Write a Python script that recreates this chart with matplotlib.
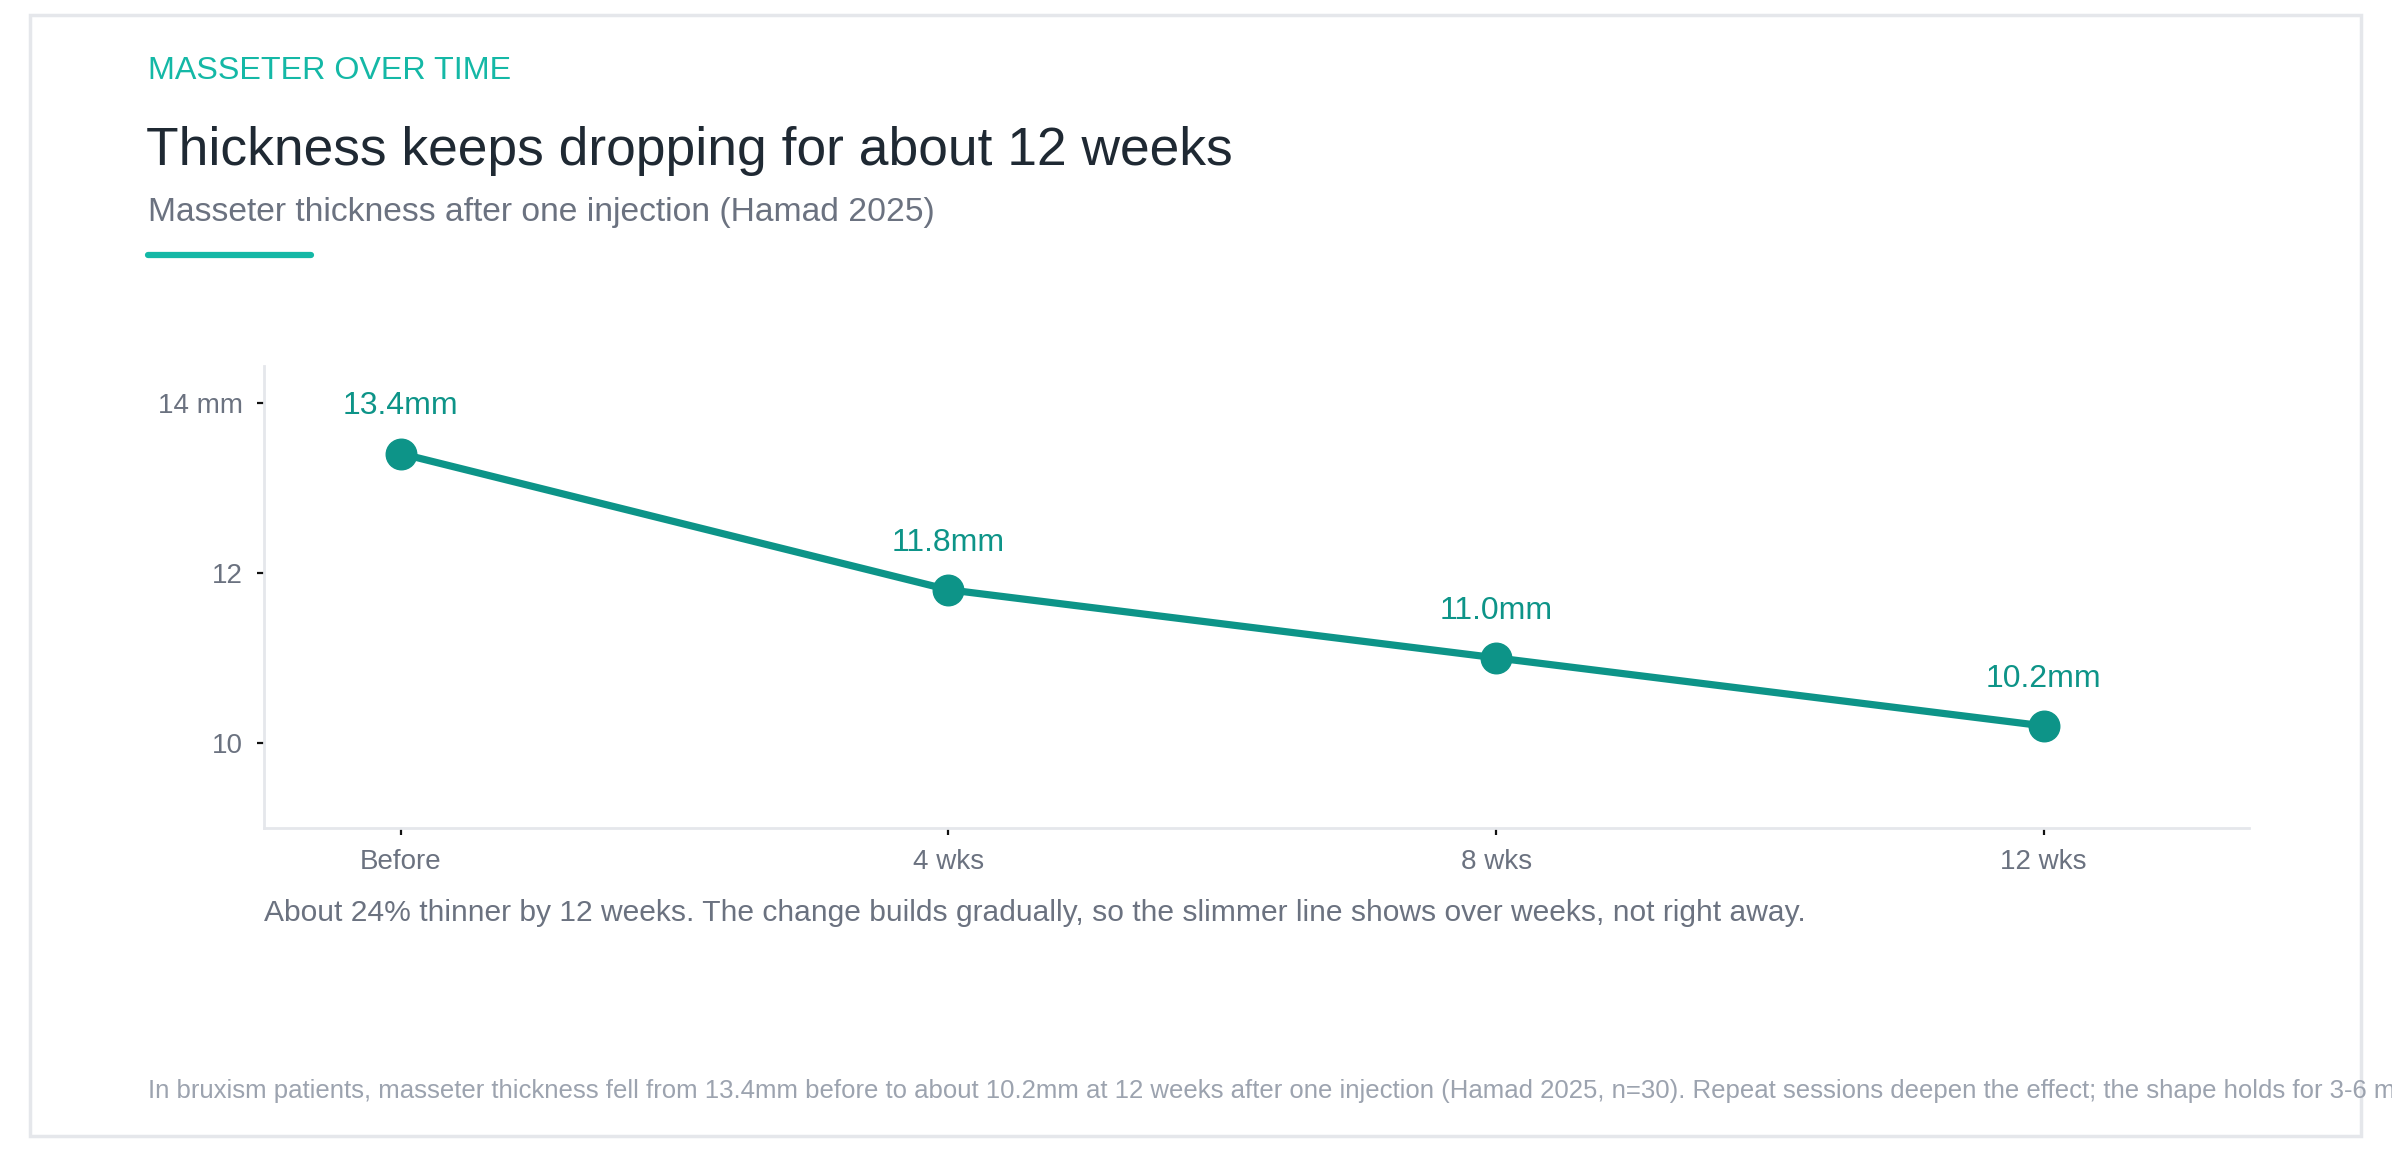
import matplotlib
matplotlib.use("Agg")
import matplotlib.pyplot as plt
from matplotlib.patches import Rectangle
from matplotlib.lines import Line2D

plt.rcParams['font.family'] = ['Liberation Sans', 'DejaVu Sans']

# data
timepoints = ["Before", "4 wks", "8 wks", "12 wks"]
thickness = [13.4, 11.8, 11.0, 10.2]
value_labels = ["13.4mm", "11.8mm", "11.0mm", "10.2mm"]
y_ticks = [10, 12, 14]
y_tick_labels = ["10", "12", "14 mm"]

teal = "#0d9488"
teal_light = "#14b8a6"
dark = "#1f2933"
gray = "#6b7280"
light_gray = "#9ca3af"
border = "#e5e7eb"

W, H = 2392, 1150
fig = plt.figure(figsize=(W / 100, H / 100), dpi=100)

def fx(px):
    return px / W

def fy(py):
    return 1 - py / H

# card border
fig.patches.append(Rectangle((fx(30), fy(1136)), fx(2361) - fx(30), fy(15) - fy(1136),
                             transform=fig.transFigure, fill=False, edgecolor=border, lw=2.5))

# header
fig.text(fx(148), fy(79), "MASSETER OVER TIME", color=teal_light, fontsize=23.2, va='baseline')
fig.text(fx(146), fy(165), "Thickness keeps dropping for about 12 weeks", color=dark,
         fontsize=38.4, va='baseline')
fig.text(fx(148), fy(221), "Masseter thickness after one injection (Hamad 2025)", color=gray,
         fontsize=24.2, va='baseline')
fig.lines.append(Line2D([fx(148), fx(311)], [fy(255), fy(255)], transform=fig.transFigure,
                        color=teal_light, lw=4.5, solid_capstyle='round'))

# chart
ax = fig.add_axes([fx(264), fy(828), fx(2249) - fx(264), fy(366) - fy(828)])
x = list(range(len(timepoints)))
ax.plot(x, thickness, color=teal, lw=5.2, marker='o', markersize=22, zorder=3)
for xi, v, lab in zip(x, thickness, value_labels):
    ax.annotate(lab, (xi, v), xytext=(0, 34), textcoords='offset points', ha='center',
                va='center', color=teal, fontsize=23)

ax.set_xlim(-0.25, 3.375)
ax.set_ylim(9.0, 14.43)
ax.set_xticks(x)
ax.set_xticklabels(timepoints)
ax.set_yticks(y_ticks)
ax.set_yticklabels(y_tick_labels)
ax.tick_params(axis='both', colors='#111111', labelcolor=gray, labelsize=20, length=5, width=1.6)
ax.tick_params(axis='y', pad=10)
ax.tick_params(axis='x', pad=10)
for side in ['top', 'right']:
    ax.spines[side].set_visible(False)
for side in ['left', 'bottom']:
    ax.spines[side].set_color(border)
    ax.spines[side].set_linewidth(2)

# notes
fig.text(fx(264), fy(921), "About 24% thinner by 12 weeks. The change builds gradually, so the slimmer "
         "line shows over weeks, not right away.", color=gray, fontsize=21.6, va='baseline')
fig.text(fx(148), fy(1098), "In bruxism patients, masseter thickness fell from 13.4mm before to about "
         "10.2mm at 12 weeks after one injection (Hamad 2025, n=30). Repeat sessions deepen the effect; "
         "the shape holds for 3-6 months.", color=light_gray, fontsize=18.5, va='baseline')

fig.savefig("out.png", dpi=100)
